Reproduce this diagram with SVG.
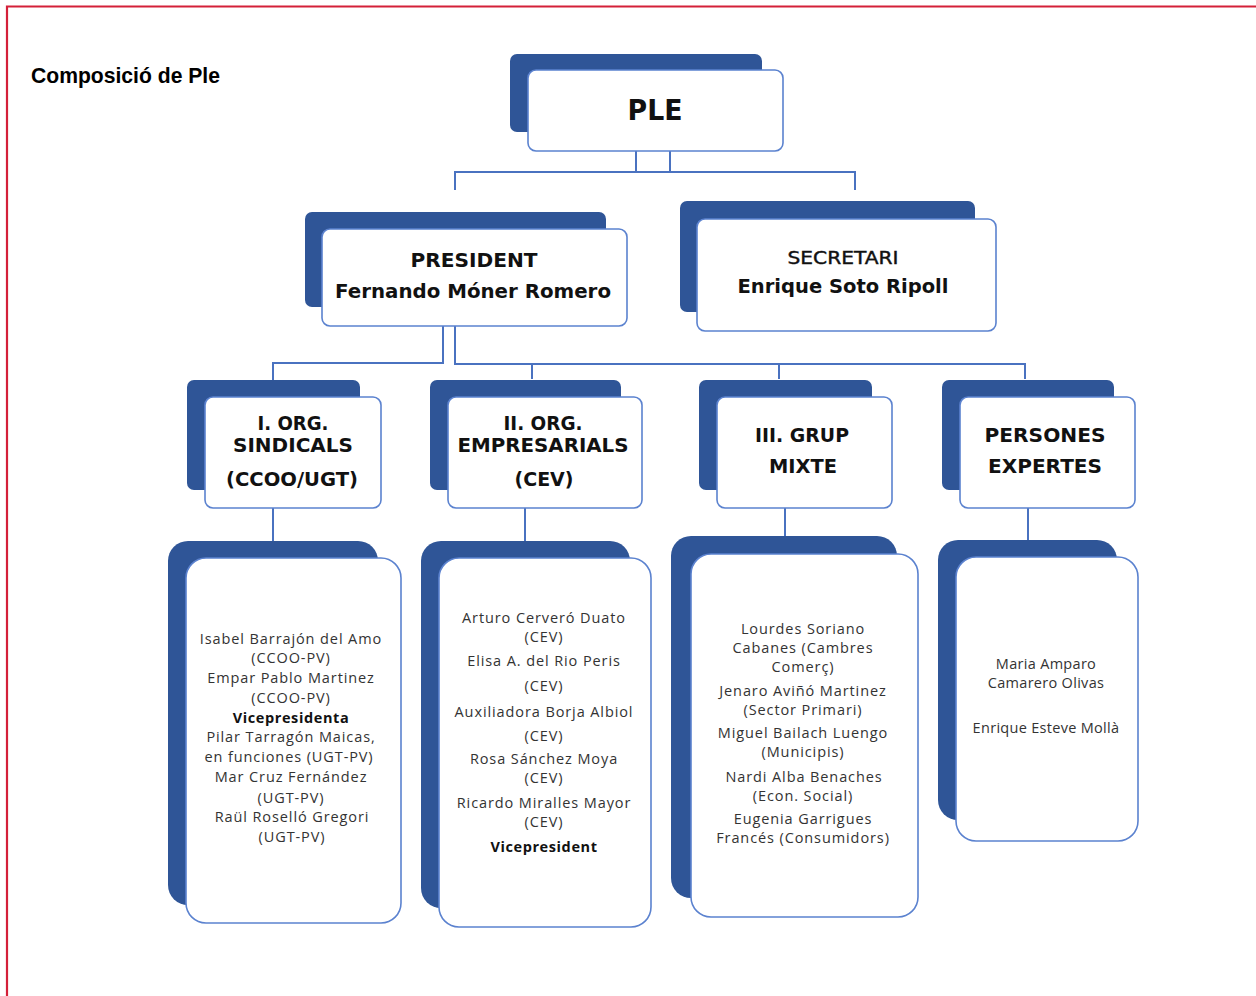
<svg xmlns="http://www.w3.org/2000/svg" width="1256" height="996" viewBox="0 0 1256 996">
<style>
.sh{fill:#2f5597}
.bx{fill:#fff;stroke:#5b82cf;stroke-width:1.6}
.cn{fill:none;stroke:#4a72c0;stroke-width:2}
.hd{font-family:"DejaVu Sans","Liberation Sans",sans-serif;font-weight:bold;fill:#111;text-anchor:middle}
.ls{font-family:"Open Sans","Liberation Sans",sans-serif;font-size:14.5px;letter-spacing:0.9px;fill:#333;text-anchor:middle}
.lb{font-family:"Open Sans","Liberation Sans",sans-serif;font-size:14.5px;letter-spacing:0.6px;font-weight:bold;fill:#111;text-anchor:middle}
</style>
<rect x="0" y="0" width="1256" height="996" fill="#fff"/>
<path d="M7 996 V6.5 H1256" fill="none" stroke="#d42039" stroke-width="2.2"/>
<text x="31" y="83" font-family="Liberation Sans, Arial, sans-serif" font-size="22" font-weight="bold" fill="#000" textLength="189" lengthAdjust="spacingAndGlyphs">Composició de Ple</text>

<g id="connectors">
<path class="cn" d="M636 151 V172 H670 V151"/>
<path class="cn" d="M455 190 V172 H855 V190"/>
<path class="cn" d="M443 326 V363 H273 V381"/>
<path class="cn" d="M455 326 V364 H1025 V379 M532 364 V379 M779 364 V379"/>
<path class="cn" d="M273 508 V541"/>
<path class="cn" d="M525 508 V541"/>
<path class="cn" d="M785 508 V537"/>
<path class="cn" d="M1028 508 V540"/>
</g>

<g id="ple">
<rect class="sh" x="510" y="54" width="252" height="78" rx="7"/>
<rect class="bx" x="528" y="70" width="255" height="81" rx="8"/>
<text class="hd" x="655" y="120" font-size="28" textLength="55" lengthAdjust="spacingAndGlyphs">PLE</text>
</g>

<g id="president">
<rect class="sh" x="305" y="212" width="301" height="95" rx="7"/>
<rect class="bx" x="322" y="229" width="305" height="97" rx="8"/>
<text class="hd" x="474" y="267" font-size="20" textLength="127" lengthAdjust="spacingAndGlyphs">PRESIDENT</text>
<text class="hd" x="473" y="298" font-size="20" textLength="276" lengthAdjust="spacingAndGlyphs">Fernando Móner Romero</text>
</g>

<g id="secretari">
<rect class="sh" x="680" y="201" width="295" height="111" rx="7"/>
<rect class="bx" x="697" y="219" width="299" height="112" rx="8"/>
<text x="843" y="264" font-family="DejaVu Sans, sans-serif" font-size="17" fill="#111" stroke="#111" stroke-width="0.4" text-anchor="middle" textLength="111" lengthAdjust="spacingAndGlyphs">SECRETARI</text>
<text class="hd" x="843" y="293" font-size="20" textLength="211" lengthAdjust="spacingAndGlyphs">Enrique Soto Ripoll</text>
</g>

<g id="org-sindicals">
<rect class="sh" x="187" y="380" width="173" height="110" rx="7"/>
<rect class="bx" x="205" y="397" width="176" height="111" rx="8"/>
<text class="hd" x="293" y="430" font-size="19" textLength="71" lengthAdjust="spacingAndGlyphs">I. ORG.</text>
<text class="hd" x="293" y="452" font-size="19" textLength="120" lengthAdjust="spacingAndGlyphs">SINDICALS</text>
<text class="hd" x="292" y="486" font-size="19" textLength="132" lengthAdjust="spacingAndGlyphs">(CCOO/UGT)</text>
</g>

<g id="org-empresarials">
<rect class="sh" x="430" y="380" width="191" height="110" rx="7"/>
<rect class="bx" x="448" y="397" width="194" height="111" rx="8"/>
<text class="hd" x="543" y="430" font-size="19" textLength="79" lengthAdjust="spacingAndGlyphs">II. ORG.</text>
<text class="hd" x="543" y="452" font-size="19" textLength="171" lengthAdjust="spacingAndGlyphs">EMPRESARIALS</text>
<text class="hd" x="544" y="486" font-size="19" textLength="59" lengthAdjust="spacingAndGlyphs">(CEV)</text>
</g>

<g id="grup-mixte">
<rect class="sh" x="699" y="380" width="173" height="110" rx="7"/>
<rect class="bx" x="717" y="397" width="175" height="111" rx="8"/>
<text class="hd" x="802" y="442" font-size="19" textLength="94" lengthAdjust="spacingAndGlyphs">III. GRUP</text>
<text class="hd" x="803" y="473" font-size="19" textLength="68" lengthAdjust="spacingAndGlyphs">MIXTE</text>
</g>

<g id="persones-expertes">
<rect class="sh" x="942" y="380" width="172" height="110" rx="7"/>
<rect class="bx" x="960" y="397" width="175" height="111" rx="8"/>
<text class="hd" x="1045" y="442" font-size="19" textLength="121" lengthAdjust="spacingAndGlyphs">PERSONES</text>
<text class="hd" x="1045" y="473" font-size="19" textLength="114" lengthAdjust="spacingAndGlyphs">EXPERTES</text>
</g>

<g id="list-sindicals">
<rect class="sh" x="168" y="541" width="210" height="364" rx="20"/>
<rect class="bx" x="186" y="558" width="215" height="365" rx="20"/>
<text class="ls" x="291" y="644">Isabel Barrajón del Amo</text>
<text class="ls" x="291" y="663">(CCOO-PV)</text>
<text class="ls" x="291" y="683">Empar Pablo Martinez</text>
<text class="ls" x="291" y="703">(CCOO-PV)</text>
<text class="lb" x="291" y="723">Vicepresidenta</text>
<text class="ls" x="291" y="742">Pilar Tarragón Maicas,</text>
<text class="ls" x="289" y="762">en funciones (UGT-PV)</text>
<text class="ls" x="291" y="782">Mar Cruz Fernández</text>
<text class="ls" x="291" y="803">(UGT-PV)</text>
<text class="ls" x="292" y="822">Raül Roselló Gregori</text>
<text class="ls" x="292" y="842">(UGT-PV)</text>
</g>

<g id="list-empresarials">
<rect class="sh" x="421" y="541" width="209" height="367" rx="20"/>
<rect class="bx" x="439" y="558" width="212" height="369" rx="20"/>
<text class="ls" x="544" y="623">Arturo Cerveró Duato</text>
<text class="ls" x="544" y="642">(CEV)</text>
<text class="ls" x="544" y="666">Elisa A. del Rio Peris</text>
<text class="ls" x="544" y="691">(CEV)</text>
<text class="ls" x="544" y="717">Auxiliadora Borja Albiol</text>
<text class="ls" x="544" y="741">(CEV)</text>
<text class="ls" x="544" y="764">Rosa Sánchez Moya</text>
<text class="ls" x="544" y="783">(CEV)</text>
<text class="ls" x="544" y="808">Ricardo Miralles Mayor</text>
<text class="ls" x="544" y="827">(CEV)</text>
<text class="lb" x="544" y="852">Vicepresident</text>
</g>

<g id="list-mixte">
<rect class="sh" x="671" y="536" width="226" height="362" rx="20"/>
<rect class="bx" x="691" y="554" width="227" height="363" rx="20"/>
<text class="ls" x="803" y="634">Lourdes Soriano</text>
<text class="ls" x="803" y="653">Cabanes (Cambres</text>
<text class="ls" x="803" y="672">Comerç)</text>
<text class="ls" x="803" y="696">Jenaro Aviñó Martinez</text>
<text class="ls" x="803" y="715">(Sector Primari)</text>
<text class="ls" x="803" y="738">Miguel Bailach Luengo</text>
<text class="ls" x="803" y="757">(Municipis)</text>
<text class="ls" x="804" y="782">Nardi Alba Benaches</text>
<text class="ls" x="803" y="801">(Econ. Social)</text>
<text class="ls" x="803" y="824">Eugenia Garrigues</text>
<text class="ls" x="803" y="843">Francés (Consumidors)</text>
</g>

<g id="list-expertes">
<rect class="sh" x="938" y="540" width="179" height="280" rx="20"/>
<rect class="bx" x="956" y="557" width="182" height="284" rx="20"/>
<text class="ls" x="1046" y="669" style="letter-spacing:0.3px">Maria Amparo</text>
<text class="ls" x="1046" y="688" style="letter-spacing:0.3px">Camarero Olivas</text>
<text class="ls" x="1046" y="733" style="letter-spacing:0.3px">Enrique Esteve Mollà</text>
</g>
</svg>
